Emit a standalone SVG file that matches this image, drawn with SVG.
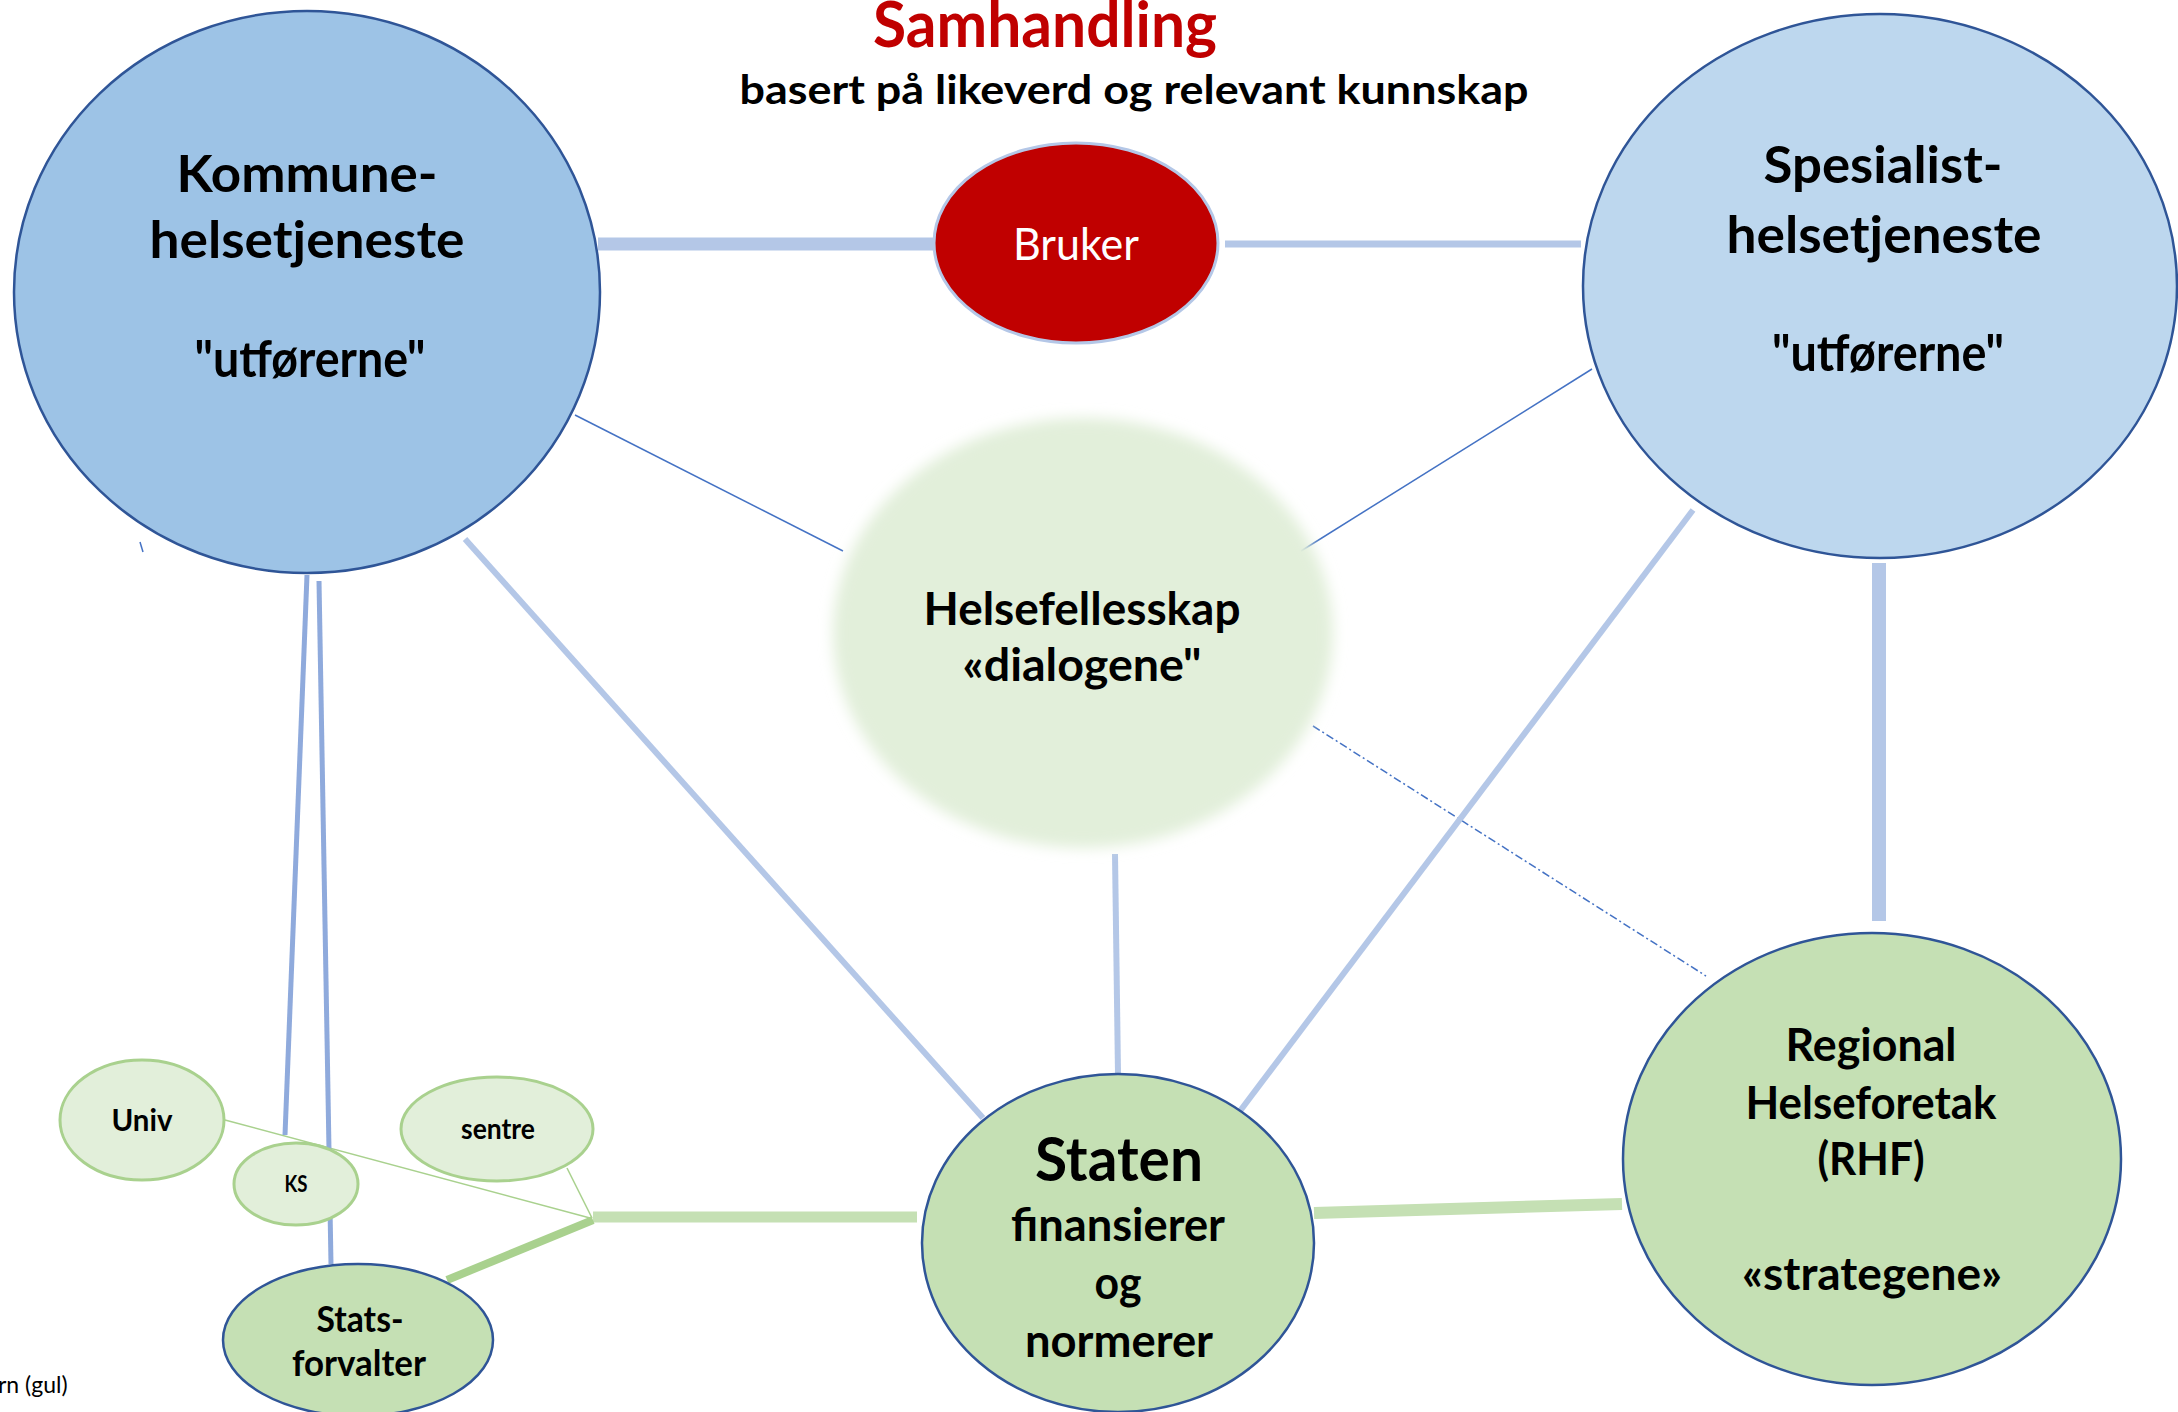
<svg xmlns="http://www.w3.org/2000/svg" width="2178" height="1412" viewBox="0 0 2178 1412">
<style>
  .t { font-family: Lato, "Open Sans", "Liberation Sans", sans-serif; font-weight: bold; fill: #000; text-anchor: middle; }
  .big { font-size: 52px; }
  .mid { font-size: 46px; }
  .blue { stroke: #B4C7E7; fill: none; }
  .thin { stroke: #4472C4; stroke-width: 1.5; fill: none; }
  .kbar { stroke: #8FAADC; stroke-width: 5; fill: none; }
  .green { stroke: #C5E0B4; fill: none; }
  .gthin { stroke: #A9D18E; stroke-width: 1.5; fill: none; }
  .node { stroke: #2F5597; stroke-width: 2.5; }
  .small { fill: #E2EFDA; stroke: #A9D18E; stroke-width: 3; }
</style>
<defs>
  <filter id="soft" x="-20%" y="-20%" width="140%" height="140%">
    <feGaussianBlur stdDeviation="7"/>
  </filter>
</defs>
<rect width="2178" height="1412" fill="#FFFFFF"/>

<g id="title">
  <text class="t" x="1045" y="47" font-size="64" style="fill:#C00000" textLength="344" lengthAdjust="spacingAndGlyphs">Samhandling</text>
  <text class="t" x="1134" y="104" font-size="40" textLength="789" lengthAdjust="spacingAndGlyphs">basert på likeverd og relevant kunnskap</text>
</g>

<g id="connectors">
  <line class="blue" x1="598" y1="244" x2="936" y2="244" stroke-width="13"/>
  <line class="blue" x1="1225" y1="244" x2="1581" y2="244" stroke-width="7"/>
  <line class="thin" x1="575" y1="415" x2="843" y2="551"/>
  <line class="thin" x1="1592" y1="369" x2="1301" y2="551"/>
  <line class="thin" x1="1313" y1="726" x2="1706" y2="976" stroke-dasharray="8 3 2 3"/>
  <line class="blue" x1="465" y1="539" x2="983" y2="1118" stroke-width="6"/>
  <line class="blue" x1="1115" y1="854" x2="1118" y2="1074" stroke-width="6"/>
  <line class="blue" x1="1693" y1="510" x2="1240" y2="1111" stroke-width="6"/>
  <line class="blue" x1="1879" y1="563" x2="1879" y2="921" stroke-width="14"/>
  <line class="green" x1="1314" y1="1213" x2="1622" y2="1204" stroke-width="12"/>
  <line class="green" x1="917" y1="1217" x2="593" y2="1217" stroke-width="11"/>
  <line x1="593" y1="1220" x2="447" y2="1280" stroke="#A9D18E" stroke-width="8"/>
  <line class="gthin" x1="225" y1="1120" x2="590" y2="1218"/>
  <line class="gthin" x1="567" y1="1168" x2="592" y2="1218"/>
  <line class="kbar" x1="307" y1="575" x2="285" y2="1135"/>
  <line class="kbar" x1="319" y1="581" x2="331" y2="1264"/>
  <line class="thin" x1="140" y1="542" x2="143" y2="552"/>
</g>

<g id="kommune">
  <ellipse class="node" cx="307" cy="292" rx="293" ry="281" fill="#9DC3E6"/>
  <text class="t big" x="307" y="192" textLength="261" lengthAdjust="spacingAndGlyphs">Kommune-</text>
  <text class="t big" x="307" y="258" textLength="315" lengthAdjust="spacingAndGlyphs">helsetjeneste</text>
  <text class="t big" x="310" y="377" textLength="231" lengthAdjust="spacingAndGlyphs">"utførerne"</text>
</g>

<g id="bruker">
  <ellipse cx="1076" cy="243" rx="142" ry="100" fill="#C00000" stroke="#B4C7E7" stroke-width="3"/>
  <text x="1076" y="260" font-family="Lato, 'Open Sans', 'Liberation Sans', sans-serif" font-size="44" fill="#FFFFFF" text-anchor="middle" textLength="126" lengthAdjust="spacingAndGlyphs">Bruker</text>
</g>

<g id="spesialist">
  <ellipse class="node" cx="1880" cy="286" rx="297" ry="272" fill="#BDD7EE"/>
  <text class="t big" x="1883" y="183" textLength="239" lengthAdjust="spacingAndGlyphs">Spesialist-</text>
  <text class="t big" x="1884" y="253" textLength="315" lengthAdjust="spacingAndGlyphs">helsetjeneste</text>
  <text class="t big" x="1888" y="371" textLength="232" lengthAdjust="spacingAndGlyphs">"utførerne"</text>
</g>

<g id="helsefellesskap">
  <ellipse cx="1083" cy="633" rx="250" ry="215" fill="#E2EFDA" filter="url(#soft)"/>
  <text class="t mid" x="1082" y="625" textLength="317" lengthAdjust="spacingAndGlyphs">Helsefellesskap</text>
  <text class="t mid" x="1082" y="681" textLength="239" lengthAdjust="spacingAndGlyphs">«dialogene"</text>
</g>

<g id="staten">
  <ellipse class="node" cx="1118" cy="1243" rx="196" ry="169" fill="#C5E0B4"/>
  <text class="t" x="1119" y="1181" font-size="62" textLength="168" lengthAdjust="spacingAndGlyphs">Staten</text>
  <text class="t mid" x="1118" y="1241" textLength="214" lengthAdjust="spacingAndGlyphs">finansierer</text>
  <text class="t mid" x="1118" y="1299" textLength="47" lengthAdjust="spacingAndGlyphs">og</text>
  <text class="t mid" x="1119" y="1357" textLength="188" lengthAdjust="spacingAndGlyphs">normerer</text>
</g>

<g id="rhf">
  <ellipse class="node" cx="1872" cy="1159" rx="249" ry="226" fill="#C5E0B4"/>
  <text class="t mid" x="1871" y="1061" textLength="171" lengthAdjust="spacingAndGlyphs">Regional</text>
  <text class="t mid" x="1871" y="1119" textLength="251" lengthAdjust="spacingAndGlyphs">Helseforetak</text>
  <text class="t mid" x="1871" y="1175" textLength="107" lengthAdjust="spacingAndGlyphs">(RHF)</text>
  <text class="t mid" x="1872" y="1290" textLength="260" lengthAdjust="spacingAndGlyphs">«strategene»</text>
</g>

<g id="statsforvalter">
  <ellipse class="node" cx="358" cy="1340" rx="135" ry="76" fill="#C5E0B4" stroke-width="3"/>
  <text class="t" x="360" y="1332" font-size="36" textLength="87" lengthAdjust="spacingAndGlyphs">Stats-</text>
  <text class="t" x="359" y="1376" font-size="36" textLength="134" lengthAdjust="spacingAndGlyphs">forvalter</text>
</g>

<g id="univ">
  <ellipse class="small" cx="142" cy="1120" rx="82" ry="60"/>
  <text class="t" x="142" y="1131" font-size="30" textLength="61" lengthAdjust="spacingAndGlyphs">Univ</text>
</g>

<g id="ks">
  <ellipse class="small" cx="296" cy="1184" rx="62" ry="41"/>
  <text class="t" x="296" y="1192" font-size="22" textLength="23" lengthAdjust="spacingAndGlyphs">KS</text>
</g>

<g id="sentre">
  <ellipse class="small" cx="497" cy="1129" rx="96" ry="52"/>
  <text class="t" x="498" y="1139" font-size="28" textLength="74" lengthAdjust="spacingAndGlyphs">sentre</text>
</g>

<g id="note">
  <text x="-2" y="1393" font-family="Lato, 'Open Sans', 'Liberation Sans', sans-serif" font-size="23" fill="#000">rn (gul)</text>
</g>
</svg>
